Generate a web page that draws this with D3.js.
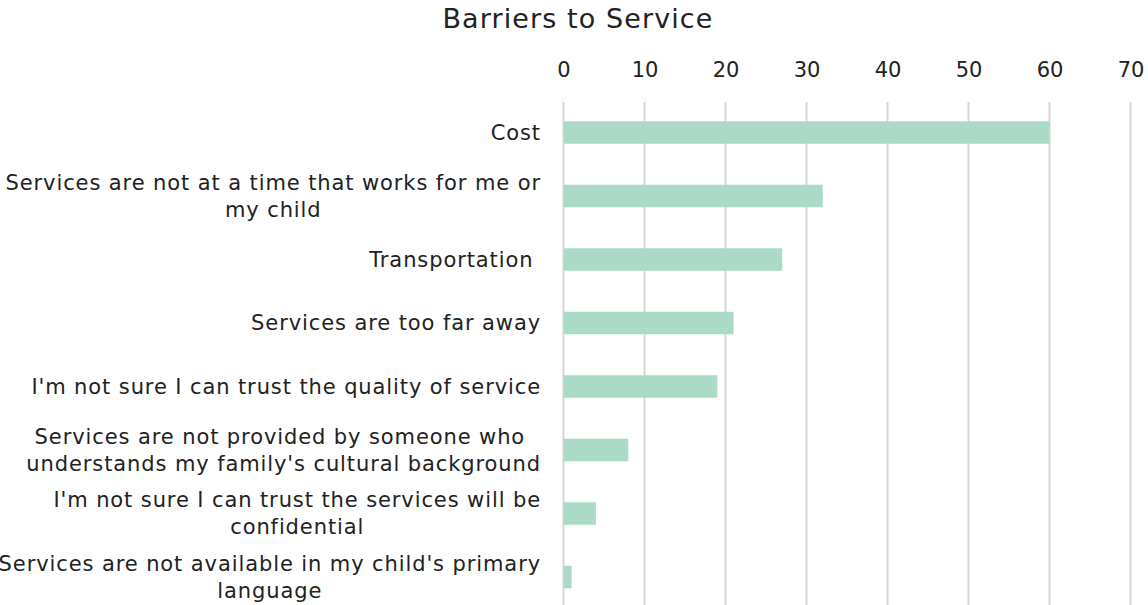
<!DOCTYPE html>
<html>
<head>
<meta charset="utf-8">
<script src="https://cdn.jsdelivr.net/npm/d3@7"></script>
<style>
  html, body { margin: 0; padding: 0; background: #fff; }
  svg { display: block; }
  text { font-family: "DejaVu Sans", sans-serif; fill: #222; white-space: pre; }
</style>
</head>
<body>
<svg id="chart" width="1148" height="605"></svg>
<script>
// Survey responses: barriers families reported when seeking services
const categories = [
  "Cost",
  "Services are not at a time that works for me or\nmy child",
  "Transportation ",
  "Services are too far away",
  "I'm not sure I can trust the quality of service",
  "Services are not provided by someone who \nunderstands my family's cultural background",
  "I'm not sure I can trust the services will be\nconfidential",
  "Services are not available in my child's primary\nlanguage"
];
const counts = [60, 32, 27, 21, 19, 8, 4, 1];
const tickValues = [0, 10, 20, 30, 40, 50, 60, 70];
const title = "Barriers to Service";

const svg = d3.select("#chart");
const W = 1148, H = 605;

const x = d3.scaleLinear().domain([0, 70]).range([563.5, 1130.5]);
const y = d3.scaleBand()
  .domain(categories)
  .range([100.75, 608.75])
  .paddingInner(0.646)
  .paddingOuter(0.323);

// Title
svg.append("text")
  .attr("x", 578)
  .attr("y", 28)
  .attr("text-anchor", "middle")
  .style("font-size", "27px")
  .style("letter-spacing", "1.1px")
  .text(title);

// Vertical gridlines
svg.append("g")
  .selectAll("line")
  .data(tickValues)
  .join("line")
  .attr("x1", d => x(d)).attr("x2", d => x(d))
  .attr("y1", 102).attr("y2", H)
  .attr("stroke", "#d6d6d6")
  .attr("stroke-width", 2);

// Value axis along the top
const axis = svg.append("g")
  .attr("transform", "translate(0,100)")
  .call(d3.axisTop(x).tickValues(tickValues).tickSize(0).tickPadding(23));
axis.select(".domain").remove();
axis.selectAll("text")
  .style("font-size", "21px")
  .style("font-family", "\"DejaVu Sans\", sans-serif")
  .attr("fill", "#222");

// Bars
svg.append("g")
  .selectAll("rect")
  .data(categories.map((c, i) => ({ c, v: counts[i] })))
  .join("rect")
  .attr("x", x(0))
  .attr("y", d => y(d.c))
  .attr("width", d => x(d.v) - x(0))
  .attr("height", y.bandwidth())
  .attr("fill", "#abdbc7");

// Category labels: block right-aligned next to the axis, lines centred within it
const labelRight = 541;
const lineH = 27;
const labels = svg.append("g")
  .style("font-size", "21px")
  .style("letter-spacing", "0.9px");
categories.forEach(c => {
  const lines = c.split("\n");
  const cy = y(c) + y.bandwidth() / 2;
  const g = labels.append("g");
  const texts = lines.map((ln, i) =>
    g.append("text")
      .attr("y", cy + (i - (lines.length - 1) / 2) * lineH)
      .attr("dy", "0.35em")
      .attr("text-anchor", "middle")
      .text(ln)
  );
  const widths = texts.map(t => t.node().getComputedTextLength());
  const blockW = Math.max(...widths);
  texts.forEach(t => t.attr("x", labelRight - blockW / 2));
});
</script>
</body>
</html>
